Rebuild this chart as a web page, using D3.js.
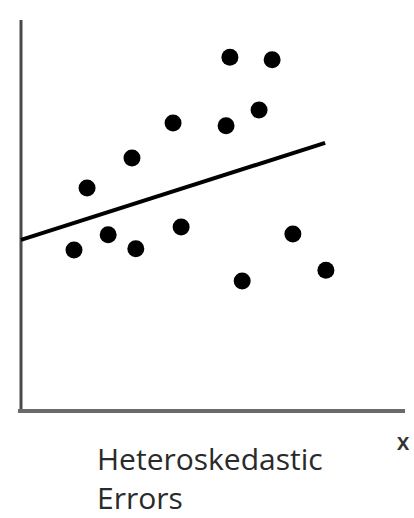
<!DOCTYPE html>
<html>
<head>
<meta charset="utf-8">
<script src="https://cdn.jsdelivr.net/npm/d3@7"></script>
<style>
  body { margin: 0; background: #fff; }
  svg { display: block; }
</style>
</head>
<body>
<div id="wrapper"></div>
<script>
// data (arbitrary 0-100 units)
const pointX = [54.4, 65.4, 39.6, 53.4, 62.0, 28.9, 17.2, 22.7, 13.8, 29.9, 41.7, 70.8, 57.6, 79.4]
const pointY = [91.2, 90.5, 74.2, 73.5, 77.6, 65.2, 57.5, 45.4, 41.5, 41.8, 47.4, 45.6, 33.5, 36.3]
const fitX = [0, 79.2]
const fitY = [44.1, 69.1]
const captionLines = ["Heteroskedastic", "Errors"]
const axisLabel = "x"

const dataset = pointX.map((x, i) => ({ x: x, y: pointY[i] }))
const fitLine = fitX.map((x, i) => ({ x: x, y: fitY[i] }))

const dimensions = {
    width: 414,
    height: 518,
    margin: { top: 20, right: 9, bottom: 107, left: 21 },
}
dimensions.boundedWidth = dimensions.width - dimensions.margin.left - dimensions.margin.right
dimensions.boundedHeight = dimensions.height - dimensions.margin.top - dimensions.margin.bottom

const wrapper = d3.select("#wrapper")
    .append("svg")
    .attr("width", dimensions.width)
    .attr("height", dimensions.height)

const bounds = wrapper.append("g")
    .attr("transform", `translate(${dimensions.margin.left},${dimensions.margin.top})`)

const xScale = d3.scaleLinear()
    .domain([0, 100])
    .range([0, dimensions.boundedWidth])

const yScale = d3.scaleLinear()
    .domain([0, 100])
    .range([dimensions.boundedHeight, 3])

// axes (plain lines, no ticks)
bounds.append("line")
    .attr("x1", 0).attr("x2", 0)
    .attr("y1", 0).attr("y2", dimensions.boundedHeight)
    .attr("stroke", "#4a4a4a")
    .attr("stroke-width", 3)

bounds.append("line")
    .attr("x1", -3).attr("x2", dimensions.boundedWidth)
    .attr("y1", dimensions.boundedHeight).attr("y2", dimensions.boundedHeight)
    .attr("stroke", "#6a6a6a")
    .attr("stroke-width", 4)

// fitted line
const lineGenerator = d3.line()
    .x(d => xScale(d.x))
    .y(d => yScale(d.y))

bounds.append("path")
    .datum(fitLine)
    .attr("d", lineGenerator)
    .attr("fill", "none")
    .attr("stroke", "#000")
    .attr("stroke-width", 4)

// points
bounds.append("g").selectAll("circle")
    .data(dataset)
    .join("circle")
    .attr("cx", d => xScale(d.x))
    .attr("cy", d => yScale(d.y))
    .attr("r", 8.5)
    .attr("fill", "#000")

// labels
wrapper.append("text")
    .attr("x", 403)
    .attr("y", 450)
    .attr("text-anchor", "middle")
    .style("font-family", "'Open Sans', sans-serif")
    .style("font-size", "23px")
    .style("font-weight", 600)
    .style("fill", "#333")
    .text(axisLabel)

wrapper.append("g").selectAll("text")
    .data(captionLines)
    .join("text")
    .attr("x", 97)
    .attr("y", (d, i) => 470 + i * 39)
    .style("font-family", "'Open Sans', sans-serif")
    .style("font-size", "30px")
    .style("fill", "#2a2a2a")
    .text(d => d)
</script>
</body>
</html>
